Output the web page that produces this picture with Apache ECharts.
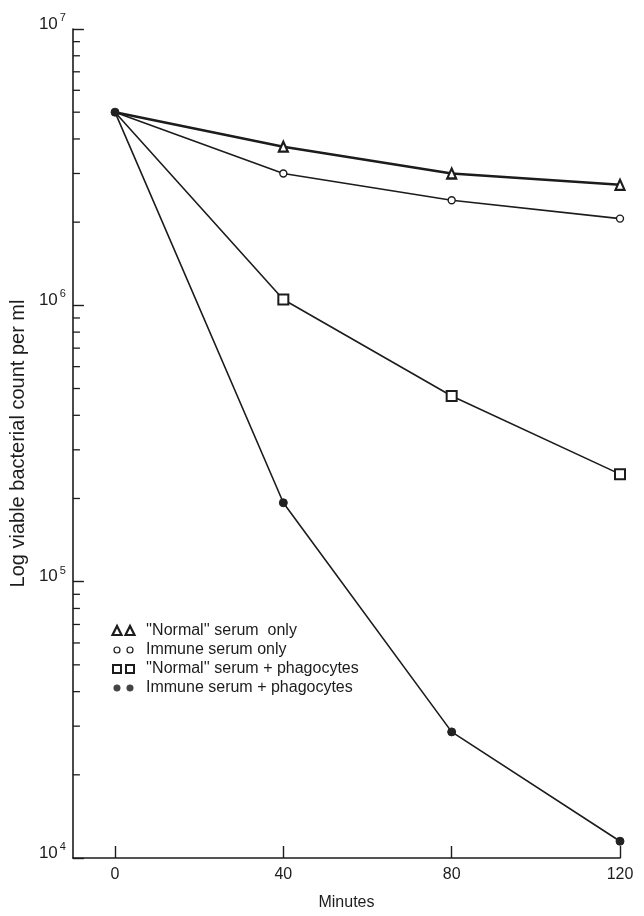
<!DOCTYPE html>
<html>
<head>
<meta charset="utf-8">
<style>
  html, body { margin: 0; padding: 0; background: #ffffff; }
  #chart { width: 644px; height: 916px; }
</style>
<script src="https://cdn.jsdelivr.net/npm/echarts@6/dist/echarts.min.js"></script>
</head>
<body>
<div id="chart"></div>
<script>
// ---- data ----
const minutes = [0, 40, 80, 120];
const xTickValues = [0, 40, 80, 120];
const normalSerumOnly = [5.0e6, 3.75e6, 3.0e6, 2.73e6];
const immuneSerumOnly = [5.0e6, 3.0e6, 2.4e6, 2.06e6];
const normalSerumPhago = [5.0e6, 1.05e6, 4.7e5, 2.45e5];
const immuneSerumPhago = [5.0e6, 1.93e5, 2.86e4, 1.15e4];
const yMinorTicks = [2e4, 3e4, 4e4, 5e4, 6e4, 7e4, 8e4, 9e4,
                     2e5, 3e5, 4e5, 5e5, 6e5, 7e5, 8e5, 9e5,
                     2e6, 3e6, 4e6, 5e6, 6e6, 7e6, 8e6, 9e6];
const legendLabels = ["''Normal'' serum  only", "Immune serum only",
                      "''Normal'' serum + phagocytes", "Immune serum + phagocytes"];
const xAxisTitle = 'Minutes';
const yAxisTitle = 'Log viable bacterial count per ml';

// ---- styling ----
const INK = '#1c1c1c';
const FONT = 'Liberation Sans, Arial, sans-serif';
const X_MIN = -10, X_MAX = 120;

function pairs(vals, hideFirst) {
  return minutes.map((m, i) => {
    const item = { value: [m, vals[i]] };
    if (hideFirst && i === 0) item.symbol = 'none';
    return item;
  });
}

const chart = echarts.init(document.getElementById('chart'), null, { renderer: 'canvas' });

const legendTop = 631, legendGap = 19, symX1 = 117, symX2 = 130, textX = 146;
const legendGraphics = [];
legendLabels.forEach((lab, i) => {
  const cy = legendTop + i * legendGap;
  [symX1, symX2].forEach(sx => {
    if (i === 0) {
      legendGraphics.push({ type: 'polygon', shape: { points: [[sx, cy - 5], [sx - 4.5, cy + 4], [sx + 4.5, cy + 4]] },
        style: { fill: '#fff', stroke: INK, lineWidth: 2.2 } });
    } else if (i === 1) {
      legendGraphics.push({ type: 'circle', shape: { cx: sx, cy: cy, r: 3 }, style: { fill: '#fff', stroke: INK, lineWidth: 1.2 } });
    } else if (i === 2) {
      legendGraphics.push({ type: 'rect', shape: { x: sx - 4, y: cy - 4, width: 8, height: 8 }, style: { fill: '#fff', stroke: INK, lineWidth: 2 } });
    } else {
      legendGraphics.push({ type: 'circle', shape: { cx: sx, cy: cy, r: 3.3 }, style: { fill: '#444', stroke: '#444', lineWidth: 0.5 } });
    }
  });
  legendGraphics.push({ type: 'text', x: textX, y: cy, style: { text: lab, font: '16px ' + FONT, fill: INK, textVerticalAlign: 'middle', textAlign: 'left' } });
});

const option = {
  backgroundColor: '#ffffff',
  animation: false,
  grid: { left: 71, right: 24, top: 29, bottom: 52, containLabel: false },
  xAxis: {
    type: 'value', min: X_MIN, max: X_MAX,
    name: xAxisTitle, nameLocation: 'middle', nameGap: 37,
    nameTextStyle: { fontFamily: FONT, fontSize: 16, color: INK },
    axisLine: { show: true, onZero: false, lineStyle: { color: INK, width: 1.6 } },
    axisTick: { show: true, inside: true, length: 12, customValues: xTickValues, lineStyle: { color: INK, width: 1.4 } },
    axisLabel: { customValues: xTickValues, fontFamily: FONT, fontSize: 16, color: INK, margin: 9 },
    splitLine: { show: false }
  },
  yAxis: {
    type: 'log', logBase: 10, min: 1e4, max: 1e7,
    name: yAxisTitle, nameLocation: 'middle', nameGap: 40,
    nameTextStyle: { fontFamily: FONT, fontSize: 20, color: INK },
    axisLine: { show: true, onZero: false, lineStyle: { color: INK, width: 1.6 } },
    axisTick: { show: true, inside: true, length: 11, lineStyle: { color: INK, width: 1.4 } },
    axisLabel: {
      margin: 7, verticalAlign: 'middle', padding: [0, 0, 10, 0],
      formatter: v => '{b|10}{s|' + Math.round(Math.log10(v)) + '}',
      rich: {
        b: { fontFamily: FONT, fontSize: 17, color: INK },
        s: { fontFamily: FONT, fontSize: 11, color: INK, padding: [0, 0, 12, 2] }
      }
    },
    splitLine: { show: false }
  },
  graphic: legendGraphics,
  series: [
    {
      type: 'custom', silent: true, z: 1,
      data: yMinorTicks.map(v => [X_MIN, v]),
      renderItem: (params, api) => {
        const p = api.coord([api.value(0), api.value(1)]);
        return { type: 'line', shape: { x1: p[0], y1: p[1], x2: p[0] + 7, y2: p[1] },
          style: { stroke: INK, lineWidth: 1.3 } };
      }
    },
    {
      name: legendLabels[1], type: 'line', data: pairs(immuneSerumOnly, true),
      symbol: 'circle', symbolSize: 7, showAllSymbol: true,
      lineStyle: { color: INK, width: 1.6 },
      itemStyle: { color: '#fff', borderColor: INK, borderWidth: 1.4 }, z: 3
    },
    {
      name: legendLabels[2], type: 'line', data: pairs(normalSerumPhago, true),
      symbol: 'rect', symbolSize: 10, showAllSymbol: true,
      lineStyle: { color: INK, width: 1.6 },
      itemStyle: { color: '#fff', borderColor: INK, borderWidth: 2 }, z: 3
    },
    {
      name: legendLabels[0], type: 'line', data: pairs(normalSerumOnly, true),
      symbol: 'triangle', symbolSize: [9, 10], showAllSymbol: true,
      lineStyle: { color: INK, width: 2.6 },
      itemStyle: { color: '#fff', borderColor: INK, borderWidth: 2.2 }, z: 4
    },
    {
      name: legendLabels[3], type: 'line', data: pairs(immuneSerumPhago, false),
      symbol: 'circle', symbolSize: 8, showAllSymbol: true,
      lineStyle: { color: INK, width: 1.6 },
      itemStyle: { color: '#222', borderColor: '#222', borderWidth: 1 }, z: 5
    }
  ]
};
chart.setOption(option);
</script>
</body>
</html>
